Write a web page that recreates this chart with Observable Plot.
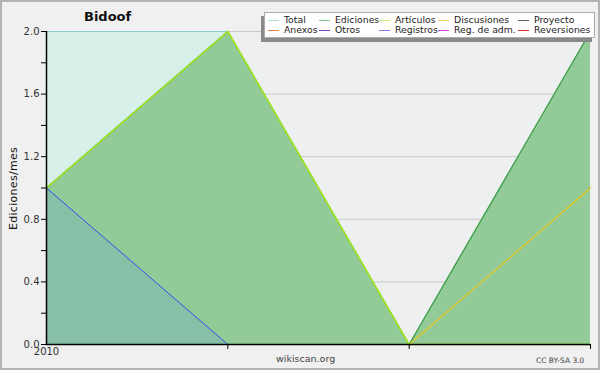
<!DOCTYPE html>
<html><head><meta charset="utf-8">
<script src="https://cdn.jsdelivr.net/npm/d3@7"></script>
<script src="https://cdn.jsdelivr.net/npm/@observablehq/plot@0.6"></script>
<style>
html,body{margin:0;padding:0;background:#f0f0f0;}
#wrap{position:relative;width:600px;height:370px;overflow:hidden;font-family:"DejaVu Sans",sans-serif;}
#border{position:absolute;left:0;top:0;width:600px;height:370px;box-sizing:border-box;border:2px solid #b4b4b4;pointer-events:none;}
#title{position:absolute;left:84px;top:9px;font-weight:bold;font-size:13px;color:#111;}
#legend{position:absolute;left:264px;top:12px;width:329px;height:24px;background:#fff;border:1px solid #aaa;box-shadow:-3px 4px 0 #8a8a8a;}
.li{position:absolute;font-size:9.3px;color:#222;line-height:11px;white-space:nowrap;}
.li span{display:inline-block;width:11px;height:1px;vertical-align:middle;margin-right:5px;}
#ylab{position:absolute;left:-32px;top:182px;transform:rotate(-90deg);font-size:11px;color:#111;width:90px;text-align:center;letter-spacing:0.3px;}
#src{position:absolute;left:276px;top:353px;font-size:9.5px;color:#444;}
#cc{position:absolute;left:536px;top:356px;font-size:7.5px;color:#444;}
</style></head>
<body><div id="wrap"><div id="chart"></div>
<div id="title">Bidoof</div>
<div id="ylab">Ediciones/mes</div>
<div id="legend"></div>
<div id="src">wikiscan.org</div>
<div id="cc">CC BY-SA 3.0</div>
<div id="border"></div>
</div>
<script>
const months = [0, 1, 2, 3];
const xTickLabels = ["2010", "", "", ""];
const total = [2, 2, 0, 2];
const ediciones = [1, 2, 0, 2];
const articulos = [1, 2, 0, 0];
const discusiones = [0, 0, 0, 1];
const registros = [1, 0, 0, 0];
const yTicks = [0, 0.4, 0.8, 1.2, 1.6, 2.0];
const yMinor = [0.2, 0.6, 1.0, 1.4, 1.8];

const legendItems = [
  ["Total", "#a8e0dc"], ["Ediciones", "#80c880"], ["Artículos", "#c8ee70"], ["Discusiones", "#f8d060"], ["Proyecto", "#606060"],
  ["Anexos", "#f08040"], ["Otros", "#8040c0"], ["Registros", "#8080f0"], ["Reg. de adm.", "#d040d0"], ["Reversiones", "#e03030"]
];
const legendX = [3, 54, 114, 173, 253];

const rows = months.map((m, i) => ({m, total: total[i], ed: ediciones[i], art: articulos[i], dis: discusiones[i], reg: registros[i]}));

const chart = Plot.plot({
  width: 600, height: 370,
  marginLeft: 46, marginRight: 10, marginTop: 31, marginBottom: 26,
  style: {background: "transparent", fontFamily: "DejaVu Sans, sans-serif"},
  x: {type: "linear", domain: [0, 3], axis: null},
  y: {type: "linear", domain: [0, 2], axis: null},
  marks: [
    Plot.frame({fill: "#eeeff1", stroke: null}),
    Plot.gridY(yTicks, {stroke: "#c8c8c8", strokeOpacity: 1}),
    Plot.areaY(rows, {x: "m", y: "total", fill: "#d8f0ea"}),
    Plot.lineY(rows, {x: "m", y: "total", stroke: "#8ed0cc", strokeWidth: 1}),
    Plot.areaY(rows, {x: "m", y: "ed", fill: "#93cb98"}),
    Plot.areaY(rows, {x: "m", y: "reg", fill: "#87c0a6"}),
    Plot.lineY(rows, {x: "m", y: "ed", stroke: "#3c9e44", strokeWidth: 1.2}),
    Plot.lineY(rows, {x: "m", y: "dis", stroke: "#e6c81e", strokeWidth: 1.2}),
    Plot.lineY(rows, {x: "m", y: "reg", stroke: "#3050f0", strokeWidth: 1}),
    Plot.lineY(rows, {x: "m", y: "art", stroke: "#a6e81c", strokeWidth: 1.5}),
    Plot.ruleX([0], {stroke: "#000", strokeWidth: 1.5}),
    Plot.ruleY([0], {stroke: "#000", strokeWidth: 1.5}),
    Plot.axisY({ticks: yTicks, tickFormat: d => d.toFixed(1), tickSize: 5, tickPadding: 2, stroke: "#000", color: "#333", fontSize: 10, label: null}),
    Plot.axisY({ticks: yMinor, tickFormat: () => "", tickSize: 5, stroke: "#000", label: null}),
    Plot.axisX({ticks: months.slice(1), tickFormat: () => "", tickSize: 5, stroke: "#000", label: null}),
    Plot.text([0], {x: d => d, y: () => 0, text: d => xTickLabels[d], dy: 7, fontSize: 10, fill: "#333"})
  ]
});
document.getElementById("chart").appendChild(chart);

const lg = document.getElementById("legend");
legendItems.forEach(([name, col], i) => {
  const d = document.createElement("div");
  d.className = "li";
  d.style.left = legendX[i % 5] + "px";
  d.style.top = (i < 5 ? 1 : 11) + "px";
  d.innerHTML = `<span style="background:${col}"></span>${name}`;
  lg.appendChild(d);
});
</script></body></html>
